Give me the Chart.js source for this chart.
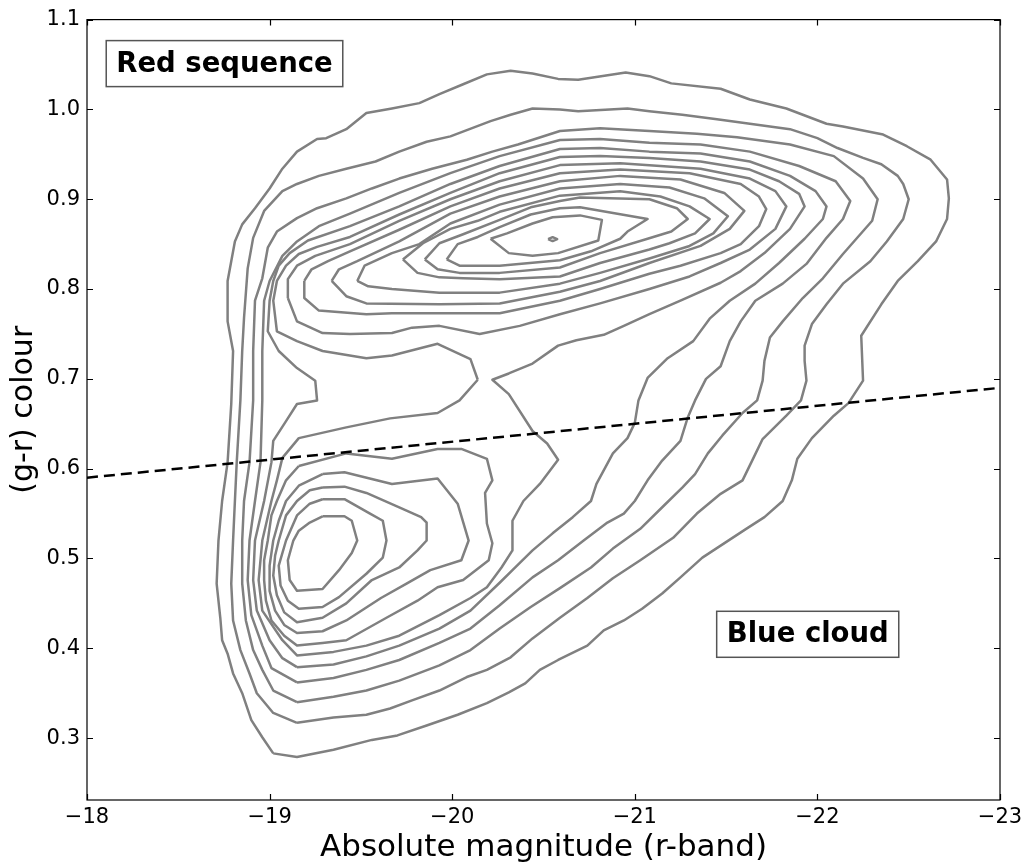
<!DOCTYPE html>
<html>
<head>
<meta charset="utf-8">
<script src="https://cdn.jsdelivr.net/npm/chart.js@4.4.0/dist/chart.umd.min.js"></script>
<style>
  html, body { margin:0; padding:0; background:#fff; }
  #wrap { width:1029px; height:865px; }
</style>
</head>
<body>
<div id="wrap"><canvas id="cmd" width="1029" height="865"></canvas></div>
<script>
const FONT = '"DejaVu Sans", "Liberation Sans", sans-serif';
const GREY = '#808080';

// axes
const magTicks = [-18, -19, -20, -21, -22, -23];
const colourTicks = [0.3, 0.4, 0.5, 0.6, 0.7, 0.8, 0.9, 1.0, 1.1];
const magRange = [-23, -18];
const colourRange = [0.2311, 1.1];

// red / blue dividing line
const dividerMag = [-18, -23];
const dividerColour = [0.59, 0.69];

// boxed labels
const labelText = ['Red sequence', 'Blue cloud'];
const labelMag = [-18.753, -21.947];
const labelColour = [1.051, 0.4156];

// density contours, [magnitude, colour], outermost first
const level01 = [[-19.02,0.283],[-18.96,0.301],[-18.90,0.320],[-18.85,0.350],[-18.80,0.372],[-18.77,0.394],[-18.74,0.409],[-18.73,0.434],[-18.71,0.472],[-18.72,0.520],[-18.74,0.564],[-18.77,0.607],[-18.79,0.672],[-18.80,0.731],[-18.77,0.764],[-18.77,0.787],[-18.77,0.809],[-18.79,0.831],[-18.81,0.853],[-18.85,0.872],[-18.92,0.890],[-19.00,0.912],[-19.07,0.934],[-19.15,0.953],[-19.26,0.967],[-19.31,0.968],[-19.42,0.978],[-19.53,0.996],[-19.67,1.001],[-19.82,1.007],[-19.93,1.017],[-20.06,1.028],[-20.19,1.039],[-20.32,1.043],[-20.44,1.040],[-20.58,1.034],[-20.69,1.033],[-20.95,1.041],[-21.08,1.037],[-21.20,1.029],[-21.47,1.023],[-21.63,1.011],[-21.83,1.001],[-22.05,0.984],[-22.14,0.981],[-22.36,0.972],[-22.49,0.959],[-22.62,0.944],[-22.71,0.922],[-22.72,0.901],[-22.71,0.878],[-22.65,0.853],[-22.55,0.831],[-22.44,0.809],[-22.35,0.783],[-22.24,0.748],[-22.25,0.698],[-22.17,0.673],[-22.09,0.659],[-21.97,0.634],[-21.89,0.611],[-21.86,0.587],[-21.81,0.564],[-21.71,0.546],[-21.61,0.533],[-21.37,0.501],[-21.25,0.479],[-21.15,0.461],[-21.04,0.444],[-20.94,0.431],[-20.83,0.420],[-20.74,0.403],[-20.58,0.387],[-20.48,0.376],[-20.40,0.361],[-20.31,0.351],[-20.19,0.339],[-20.03,0.326],[-19.86,0.314],[-19.70,0.303],[-19.56,0.298],[-19.35,0.287],[-19.15,0.279]];
const level02 = [[-19.15,0.317],[-19.02,0.328],[-18.93,0.350],[-18.89,0.372],[-18.84,0.398],[-18.80,0.431],[-18.79,0.472],[-18.80,0.520],[-18.81,0.564],[-18.82,0.607],[-18.84,0.676],[-18.85,0.731],[-18.86,0.768],[-18.88,0.823],[-18.91,0.857],[-18.97,0.887],[-19.07,0.909],[-19.15,0.917],[-19.27,0.926],[-19.42,0.934],[-19.58,0.942],[-19.71,0.953],[-19.86,0.964],[-19.99,0.970],[-20.21,0.987],[-20.32,0.994],[-20.44,1.001],[-20.59,1.000],[-20.69,0.998],[-20.96,1.001],[-21.08,0.998],[-21.26,0.994],[-21.45,0.989],[-21.63,0.984],[-21.85,0.978],[-22.00,0.968],[-22.11,0.957],[-22.25,0.946],[-22.35,0.939],[-22.44,0.926],[-22.47,0.917],[-22.50,0.900],[-22.47,0.878],[-22.38,0.853],[-22.29,0.831],[-22.14,0.806],[-22.05,0.783],[-21.97,0.761],[-21.93,0.737],[-21.93,0.720],[-21.94,0.698],[-21.91,0.676],[-21.83,0.659],[-21.70,0.633],[-21.65,0.612],[-21.59,0.587],[-21.47,0.572],[-21.34,0.550],[-21.21,0.523],[-21.03,0.498],[-20.88,0.478],[-20.74,0.456],[-20.59,0.434],[-20.44,0.411],[-20.32,0.390],[-20.19,0.376],[-20.08,0.368],[-19.93,0.353],[-19.78,0.342],[-19.66,0.333],[-19.53,0.326],[-19.35,0.323]];
const level03 = [[-19.15,0.340],[-19.02,0.353],[-18.96,0.376],[-18.91,0.398],[-18.87,0.431],[-18.85,0.472],[-18.85,0.520],[-18.86,0.564],[-18.89,0.607],[-18.91,0.676],[-18.91,0.731],[-18.92,0.787],[-18.96,0.812],[-18.99,0.846],[-19.04,0.864],[-19.15,0.879],[-19.26,0.890],[-19.42,0.901],[-19.56,0.912],[-19.71,0.923],[-19.89,0.934],[-20.08,0.944],[-20.22,0.953],[-20.36,0.961],[-20.59,0.976],[-20.81,0.979],[-21.08,0.976],[-21.34,0.973],[-21.56,0.969],[-21.85,0.961],[-22.09,0.948],[-22.25,0.923],[-22.33,0.900],[-22.30,0.876],[-22.14,0.839],[-22.03,0.812],[-21.92,0.790],[-21.81,0.764],[-21.74,0.746],[-21.71,0.720],[-21.70,0.698],[-21.67,0.676],[-21.59,0.662],[-21.48,0.637],[-21.40,0.617],[-21.33,0.594],[-21.26,0.579],[-21.16,0.559],[-21.03,0.533],[-20.88,0.511],[-20.76,0.490],[-20.59,0.467],[-20.43,0.446],[-20.26,0.422],[-20.10,0.398],[-19.93,0.381],[-19.71,0.364],[-19.53,0.353],[-19.35,0.346]];
const level04 = [[-19.15,0.362],[-19.01,0.378],[-18.96,0.403],[-18.90,0.437],[-18.88,0.476],[-18.89,0.520],[-18.92,0.564],[-18.95,0.607],[-18.96,0.676],[-18.96,0.731],[-18.97,0.787],[-19.00,0.809],[-19.07,0.837],[-19.15,0.853],[-19.27,0.870],[-19.44,0.884],[-19.71,0.907],[-19.99,0.929],[-20.26,0.948],[-20.59,0.966],[-20.81,0.967],[-21.08,0.963],[-21.36,0.961],[-21.63,0.953],[-21.90,0.937],[-22.10,0.920],[-22.18,0.898],[-22.14,0.878],[-22.05,0.857],[-21.94,0.828],[-21.81,0.806],[-21.66,0.787],[-21.58,0.764],[-21.52,0.742],[-21.47,0.714],[-21.39,0.700],[-21.33,0.676],[-21.29,0.657],[-21.25,0.631],[-21.15,0.609],[-21.07,0.587],[-21.00,0.564],[-20.94,0.550],[-20.85,0.540],[-20.72,0.520],[-20.58,0.498],[-20.44,0.479],[-20.26,0.448],[-20.10,0.422],[-19.93,0.406],[-19.71,0.387],[-19.53,0.376],[-19.35,0.367]];
const level05 = [[-19.15,0.379],[-19.07,0.389],[-19.00,0.409],[-18.93,0.442],[-18.91,0.476],[-18.92,0.520],[-18.97,0.564],[-19.01,0.607],[-19.02,0.631],[-19.09,0.653],[-19.15,0.672],[-19.26,0.676],[-19.25,0.698],[-19.15,0.712],[-19.05,0.731],[-18.99,0.753],[-19.00,0.787],[-19.02,0.809],[-19.05,0.826],[-19.11,0.840],[-19.21,0.854],[-19.44,0.870],[-19.71,0.892],[-19.99,0.917],[-20.26,0.937],[-20.59,0.956],[-20.81,0.957],[-21.08,0.953],[-21.36,0.951],[-21.63,0.942],[-21.85,0.926],[-21.99,0.909],[-22.05,0.892],[-22.03,0.878],[-21.93,0.856],[-21.79,0.829],[-21.66,0.806],[-21.52,0.787],[-21.41,0.767],[-21.32,0.742],[-21.18,0.723],[-21.07,0.701],[-21.02,0.676],[-21.00,0.651],[-20.96,0.634],[-20.88,0.617],[-20.79,0.583],[-20.76,0.564],[-20.66,0.546],[-20.55,0.528],[-20.44,0.509],[-20.33,0.487],[-20.26,0.473],[-20.10,0.442],[-19.93,0.422],[-19.71,0.403],[-19.53,0.391],[-19.35,0.382]];
const level06 = [[-20.14,0.699],[-20.10,0.722],[-19.92,0.739],[-19.67,0.726],[-19.53,0.723],[-19.29,0.731],[-19.15,0.742],[-19.04,0.753],[-19.02,0.787],[-19.04,0.809],[-19.09,0.826],[-19.16,0.839],[-19.26,0.847],[-19.44,0.858],[-19.71,0.883],[-19.99,0.907],[-20.26,0.929],[-20.59,0.947],[-20.81,0.948],[-21.08,0.946],[-21.36,0.942],[-21.63,0.933],[-21.79,0.920],[-21.90,0.906],[-21.93,0.892],[-21.85,0.867],[-21.71,0.840],[-21.58,0.820],[-21.47,0.807],[-21.25,0.787],[-21.08,0.772],[-20.94,0.759],[-20.83,0.749],[-20.68,0.743],[-20.58,0.737],[-20.44,0.717],[-20.31,0.706],[-20.22,0.699],[-20.31,0.683],[-20.44,0.642],[-20.52,0.628],[-20.58,0.610],[-20.48,0.583],[-20.39,0.564],[-20.33,0.542],[-20.33,0.509],[-20.27,0.490],[-20.19,0.468],[-20.10,0.456],[-19.93,0.437],[-19.71,0.414],[-19.53,0.403],[-19.35,0.396],[-19.15,0.392],[-19.07,0.409],[-18.96,0.442],[-18.94,0.476],[-18.96,0.520],[-19.01,0.564],[-19.04,0.587],[-19.07,0.612],[-19.16,0.634],[-19.42,0.646],[-19.66,0.656],[-19.92,0.662],[-20.04,0.676]];

// red sequence peak
const red07 = [[-19.10,0.790],[-19.10,0.811],[-19.15,0.826],[-19.25,0.837],[-19.44,0.850],[-19.71,0.876],[-19.99,0.900],[-20.26,0.920],[-20.59,0.938],[-20.92,0.940],[-21.36,0.934],[-21.63,0.923],[-21.77,0.909],[-21.83,0.892],[-21.77,0.867],[-21.63,0.844],[-21.47,0.829],[-21.30,0.814],[-21.08,0.800],[-20.81,0.784],[-20.59,0.772],[-20.37,0.759],[-20.15,0.750],[-19.93,0.759],[-19.78,0.757],[-19.67,0.751],[-19.44,0.750],[-19.29,0.751],[-19.15,0.764]];
const red08 = [[-19.19,0.809],[-19.23,0.822],[-19.32,0.831],[-19.44,0.842],[-19.71,0.866],[-19.99,0.892],[-20.26,0.912],[-20.59,0.929],[-20.92,0.933],[-21.30,0.929],[-21.58,0.917],[-21.68,0.903],[-21.72,0.889],[-21.68,0.870],[-21.58,0.850],[-21.47,0.840],[-21.25,0.826],[-21.08,0.817],[-20.81,0.800],[-20.59,0.787],[-20.26,0.773],[-19.93,0.773],[-19.67,0.773],[-19.53,0.772],[-19.27,0.776],[-19.19,0.790]];
const red09 = [[-19.34,0.809],[-19.38,0.822],[-19.48,0.831],[-19.71,0.853],[-19.99,0.884],[-20.26,0.903],[-20.59,0.920],[-20.92,0.926],[-21.25,0.922],[-21.49,0.907],[-21.60,0.887],[-21.52,0.867],[-21.36,0.848],[-21.08,0.829],[-20.81,0.809],[-20.59,0.797],[-20.26,0.784],[-19.93,0.783],[-19.53,0.784],[-19.42,0.792]];
const red10 = [[-19.48,0.809],[-19.52,0.826],[-19.67,0.840],[-19.82,0.850],[-19.99,0.873],[-20.26,0.894],[-20.59,0.912],[-20.92,0.917],[-21.19,0.913],[-21.38,0.901],[-21.51,0.881],[-21.43,0.862],[-21.30,0.848],[-21.08,0.834],[-20.81,0.818],[-20.59,0.806],[-20.26,0.796],[-19.93,0.796],[-19.67,0.800],[-19.54,0.803]];
const red11 = [[-19.73,0.833],[-19.84,0.851],[-19.99,0.867],[-20.14,0.876],[-20.26,0.886],[-20.59,0.904],[-20.92,0.909],[-21.14,0.903],[-21.30,0.892],[-21.41,0.878],[-21.33,0.862],[-21.19,0.851],[-21.08,0.844],[-20.81,0.829],[-20.59,0.814],[-20.26,0.811],[-20.06,0.812],[-19.93,0.813],[-19.81,0.818]];
const red12 = [[-19.85,0.833],[-19.93,0.851],[-20.06,0.861],[-20.26,0.877],[-20.43,0.891],[-20.59,0.898],[-20.70,0.902],[-21.08,0.900],[-21.23,0.890],[-21.29,0.878],[-21.20,0.864],[-21.07,0.856],[-20.81,0.840],[-20.59,0.824],[-20.26,0.818],[-20.04,0.818],[-19.92,0.822]];
const red13 = [[-19.97,0.833],[-20.03,0.850],[-20.14,0.858],[-20.26,0.869],[-20.43,0.883],[-20.59,0.890],[-20.70,0.891],[-21.07,0.878],[-20.96,0.864],[-20.92,0.856],[-20.76,0.842],[-20.59,0.832],[-20.26,0.826],[-20.04,0.826]];
const red14 = [[-20.21,0.856],[-20.30,0.862],[-20.44,0.873],[-20.55,0.880],[-20.70,0.882],[-20.82,0.877],[-20.80,0.854],[-20.58,0.840],[-20.44,0.837],[-20.31,0.840]];
const peakDot = [[-20.525,0.8556],[-20.55,0.8578],[-20.575,0.8556],[-20.55,0.8534]];

// blue cloud peak
const blue07 = [[-19.16,0.603],[-19.42,0.617],[-19.67,0.611],[-19.92,0.622],[-20.05,0.622],[-20.19,0.611],[-20.22,0.587],[-20.18,0.573],[-20.19,0.539],[-20.22,0.517],[-20.20,0.498],[-20.06,0.476],[-19.92,0.468],[-19.81,0.453],[-19.64,0.434],[-19.42,0.409],[-19.29,0.406],[-19.15,0.403],[-19.08,0.414],[-19.01,0.431],[-18.98,0.453],[-18.97,0.476],[-18.97,0.498],[-18.99,0.520],[-19.01,0.548],[-19.04,0.564],[-19.09,0.587]];
const blue08 = [[-19.29,0.594],[-19.41,0.596],[-19.67,0.583],[-19.92,0.589],[-20.03,0.561],[-20.09,0.520],[-20.05,0.498],[-19.88,0.487],[-19.75,0.472],[-19.61,0.456],[-19.42,0.431],[-19.29,0.419],[-19.15,0.417],[-19.08,0.426],[-19.03,0.442],[-19.00,0.464],[-19.00,0.492],[-19.02,0.520],[-19.05,0.542],[-19.09,0.564],[-19.16,0.581]];
const blue09 = [[-19.29,0.579],[-19.41,0.580],[-19.53,0.573],[-19.71,0.557],[-19.83,0.546],[-19.86,0.540],[-19.86,0.520],[-19.81,0.509],[-19.71,0.490],[-19.56,0.476],[-19.42,0.450],[-19.29,0.434],[-19.15,0.429],[-19.08,0.440],[-19.04,0.459],[-19.02,0.481],[-19.03,0.503],[-19.05,0.520],[-19.09,0.548],[-19.15,0.564],[-19.22,0.576]];
const blue10 = [[-19.29,0.566],[-19.41,0.566],[-19.55,0.550],[-19.62,0.542],[-19.64,0.520],[-19.62,0.501],[-19.53,0.483],[-19.38,0.457],[-19.29,0.446],[-19.16,0.444],[-19.10,0.453],[-19.06,0.470],[-19.05,0.492],[-19.09,0.520],[-19.15,0.548],[-19.22,0.561]];
const blue11 = [[-19.29,0.547],[-19.41,0.547],[-19.45,0.542],[-19.48,0.520],[-19.45,0.506],[-19.38,0.487],[-19.29,0.466],[-19.15,0.464],[-19.11,0.476],[-19.10,0.498],[-19.13,0.520],[-19.16,0.531],[-19.22,0.540]];

const contours = [level01, level02, level03, level04, level05, level06,
  red07, red08, red09, red10, red11, red12, red13, red14, peakDot,
  blue07, blue08, blue09, blue10, blue11];

function closedRing(pts) {
  const d = pts.map(p => ({ x: p[0], y: p[1] }));
  d.push({ x: pts[0][0], y: pts[0][1] });
  return d;
}

const datasets = [{
  data: dividerMag.map((m, i) => ({ x: m, y: dividerColour[i] })),
  borderColor: '#000', borderWidth: 2.5, borderDash: [11, 6],
  showLine: true, pointRadius: 0, order: 0
}];
contours.forEach(c => datasets.push({
  data: closedRing(c), borderColor: GREY, borderWidth: 2.5,
  showLine: true, pointRadius: 0, fill: false, order: 1
}));

// matplotlib-like frame, inward ticks on all sides, boxed labels
const axesFrame = {
  id: 'axesFrame',
  afterDraw(chart) {
    const { ctx, chartArea: a, scales: { x, y } } = chart;
    ctx.save();
    ctx.strokeStyle = '#000';
    ctx.lineWidth = 1.2;
    ctx.strokeRect(a.left, a.top, a.right - a.left, a.bottom - a.top);
    ctx.beginPath();
    magTicks.forEach(v => {
      const px = Math.round(x.getPixelForValue(v)) + 0.5;
      ctx.moveTo(px, a.bottom); ctx.lineTo(px, a.bottom - 6);
      ctx.moveTo(px, a.top); ctx.lineTo(px, a.top + 6);
    });
    colourTicks.forEach(v => {
      const py = Math.round(y.getPixelForValue(v)) + 0.5;
      ctx.moveTo(a.left, py); ctx.lineTo(a.left + 6, py);
      ctx.moveTo(a.right, py); ctx.lineTo(a.right - 6, py);
    });
    ctx.stroke();

    ctx.font = 'bold 27.5px ' + FONT;
    ctx.textAlign = 'center';
    ctx.textBaseline = 'middle';
    labelText.forEach((t, i) => {
      const cx = x.getPixelForValue(labelMag[i]);
      const cy = y.getPixelForValue(labelColour[i]);
      const w = ctx.measureText(t).width + 20;
      const h = 46;
      ctx.fillStyle = '#fff';
      ctx.fillRect(cx - w / 2, cy - h / 2, w, h);
      ctx.strokeStyle = '#555';
      ctx.lineWidth = 1.5;
      ctx.strokeRect(cx - w / 2, cy - h / 2, w, h);
      ctx.fillStyle = '#000';
      ctx.fillText(t, cx, cy + 1);
    });
    ctx.restore();
  }
};

new Chart(document.getElementById('cmd'), {
  type: 'scatter',
  data: { datasets },
  options: {
    responsive: false,
    animation: false,
    devicePixelRatio: 1,
    layout: { padding: { top: 18, right: 29, left: 0, bottom: 0 } },
    plugins: { legend: { display: false }, tooltip: { enabled: false } },
    elements: { line: { tension: 0, borderJoinStyle: 'round' } },
    scales: {
      x: {
        type: 'linear', position: 'bottom',
        min: magRange[0], max: magRange[1], reverse: true,
        afterBuildTicks: s => { s.ticks = magTicks.map(v => ({ value: v })); },
        afterFit: s => { s.height = 65; },
        grid: { display: false, drawTicks: false },
        border: { display: false },
        ticks: { font: { family: FONT, size: 21 }, color: '#000', padding: 5, maxRotation: 0,
                 callback: v => '\u2212' + Math.abs(v) },
        title: { display: true, text: 'Absolute magnitude (r-band)', color: '#000',
                 font: { family: FONT, size: 31, lineHeight: 1 }, padding: { top: 0, bottom: 2 } }
      },
      y: {
        type: 'linear', position: 'left',
        min: colourRange[0], max: colourRange[1],
        afterBuildTicks: s => { s.ticks = colourTicks.map(v => ({ value: v })); },
        afterFit: s => { s.width = 87; },
        grid: { display: false, drawTicks: false },
        border: { display: false },
        ticks: { font: { family: FONT, size: 21 }, color: '#000', padding: 7,
                 callback: v => v.toFixed(1) },
        title: { display: true, text: '(g-r) colour', color: '#000',
                 font: { family: FONT, size: 30, lineHeight: 1 }, padding: { top: 9, bottom: 0 } }
      }
    }
  },
  plugins: [axesFrame]
});
</script>
</body>
</html>
